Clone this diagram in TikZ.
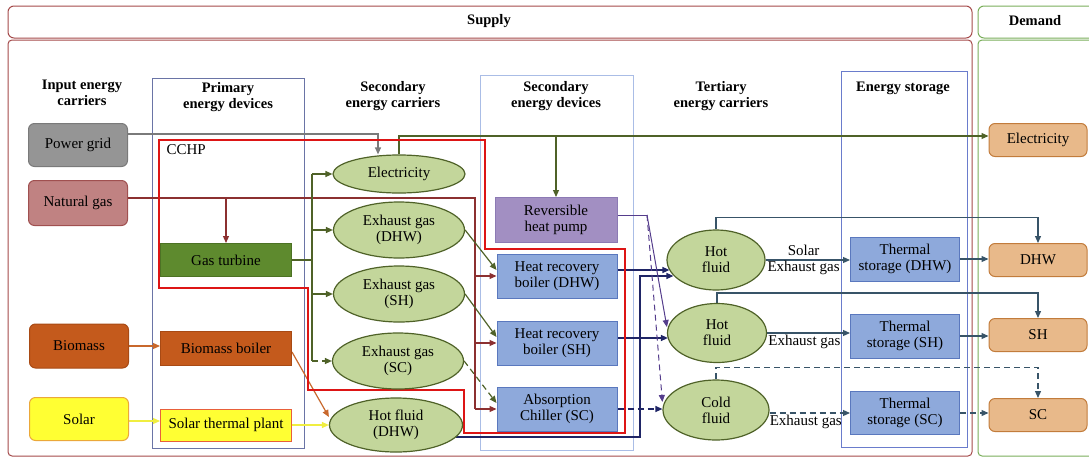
\documentclass[tikz,border=0pt]{standalone}
\usepackage{fontspec}
\setmainfont{Liberation Serif}
\usetikzlibrary{arrows.meta,shapes.geometric,backgrounds}

\definecolor{marcoSup}{HTML}{A44A4A}
\definecolor{marcoDem}{HTML}{7AAE5A}
\definecolor{colPrim}{HTML}{6A74A6}
\definecolor{colSec}{HTML}{AABDE6}
\definecolor{colAlm}{HTML}{6A7CCC}
\definecolor{grisRed}{HTML}{959595}
\definecolor{grisBorde}{HTML}{7A7A7A}
\definecolor{gasRelleno}{HTML}{C08282}
\definecolor{gasBorde}{HTML}{A05050}
\definecolor{gasLinea}{HTML}{8C3030}
\definecolor{bioRelleno}{HTML}{C45A1C}
\definecolor{bioBorde}{HTML}{A84A14}
\definecolor{bioLinea}{HTML}{C8682C}
\definecolor{solRelleno}{HTML}{FFFF33}
\definecolor{solBorde}{HTML}{EBA83A}
\definecolor{solPlanta}{HTML}{E8603A}
\definecolor{solLinea}{HTML}{F0EE40}
\definecolor{turbRelleno}{HTML}{5E8A2E}
\definecolor{turbBorde}{HTML}{4C7224}
\definecolor{verdeOsc}{HTML}{4F6228}
\definecolor{verdeClaro}{HTML}{C3D69B}
\definecolor{azulRelleno}{HTML}{8EA9DB}
\definecolor{azulBorde}{HTML}{5A78BE}
\definecolor{bombaRelleno}{HTML}{A28FC2}
\definecolor{bombaBorde}{HTML}{8C7AB4}
\definecolor{moradoLinea}{HTML}{553D8C}
\definecolor{marino}{HTML}{1F2566}
\definecolor{pizarra}{HTML}{385468}
\definecolor{demRelleno}{HTML}{E8B98A}
\definecolor{demBorde}{HTML}{C27C3C}
\definecolor{rojoCCHP}{HTML}{DD1515}

\newcommand{\fuente}{\fontsize{15}{16}\selectfont}
\newcommand{\fuentetit}{\bfseries\fontsize{14.5}{16}\selectfont}

\begin{document}
\begin{tikzpicture}[x=1pt, y=-1pt,
    flecha/.style={-{Triangle[length=7pt,width=6pt]}, line width=1.2pt},
    linea/.style={line width=1.2pt},
    discont/.style={dash pattern=on 6pt off 4pt},
    entrada/.style={draw, rounded corners=6pt, line width=1pt, minimum width=99pt, minimum height=43pt, font=\fuente},
    equipo/.style={draw, line width=1pt, minimum width=131pt, minimum height=33pt, font=\fuente},
    portador/.style={ellipse, draw=verdeOsc, fill=verdeClaro, line width=1.2pt, inner sep=0pt, align=center, font=\fuente, minimum width=131pt, minimum height=56pt},
    dispositivo/.style={draw=azulBorde, fill=azulRelleno, line width=1pt, minimum width=120pt, minimum height=44pt, align=center, font=\fuente},
    demanda/.style={draw=demBorde, fill=demRelleno, rounded corners=6pt, line width=1pt, minimum width=98pt, minimum height=33pt, font=\fuente},
    titulo/.style={font=\fuentetit, align=center},
    etiqueta/.style={font=\fuente, align=center, text=black, inner sep=1pt}]
\useasboundingbox (0,0) rectangle (1089,458);

% Entradas de energía
\node[entrada, fill=grisRed, draw=grisBorde] (redel) at (78,145) {Power grid};
\node[entrada, fill=gasRelleno, draw=gasBorde, minimum height=45pt] (gas) at (78,203) {Natural gas};
\node[entrada, fill=bioRelleno, draw=bioBorde, minimum height=44pt] (biomasa) at (79,346) {Biomass};
\node[entrada, fill=solRelleno, draw=solBorde] (sol) at (79,419) {Solar};

% Equipos primarios
\node[equipo, fill=turbRelleno, draw=turbBorde] (turbina) at (226,260) {Gas turbine};
\node[equipo, fill=bioRelleno, draw=bioBorde, minimum height=34pt] (caldbio) at (226,348) {Biomass boiler};
\node[equipo, fill=solRelleno, draw=solPlanta, minimum height=32pt] (solterm) at (226,425) {Solar thermal plant};
\node[font=\fuente, anchor=west] (cchp) at (163,150) {CCHP};

% Portadores secundarios
\node[portador, minimum width=132pt, minimum height=38pt] (elec) at (399,174) {Electricity};
\node[portador] (gasDHW) at (399,230) {Exhaust gas\\(DHW)};
\node[portador] (gasSH) at (399,294) {Exhaust gas\\(SH)};
\node[portador] (gasSC) at (398,361) {Exhaust gas\\(SC)};
\node[portador, minimum width=133pt, minimum height=54pt] (fluDHW) at (396,425) {Hot fluid\\(DHW)};

% Dispositivos secundarios
\node[dispositivo, fill=bombaRelleno, draw=bombaBorde, minimum width=122pt, minimum height=45pt] (bomba) at (556,220) {Reversible\\heat pump};
\node[dispositivo] (calDHW) at (557,276) {Heat recovery\\boiler (DHW)};
\node[dispositivo] (calSH) at (557,343) {Heat recovery\\boiler (SH)};
\node[dispositivo] (absorc) at (557,409) {Absorption\\Chiller (SC)};

% Portadores terciarios
\node[portador, minimum width=98pt, minimum height=60pt] (calor1) at (716,260) {Hot\\fluid};
\node[portador, minimum width=99pt, minimum height=59pt] (calor2) at (717,333) {Hot\\fluid};
\node[portador, minimum width=106pt, minimum height=60pt] (frio) at (716,410) {Cold\\fluid};

% Almacenamiento
\node[dispositivo, minimum width=109pt] (almDHW) at (905,259) {Thermal\\storage (DHW)};
\node[dispositivo, minimum width=109pt] (almSH) at (905,336) {Thermal\\storage (SH)};
\node[dispositivo, minimum width=109pt, minimum height=43pt] (almSC) at (905,413) {Thermal\\storage (SC)};

% Demanda
\node[demanda] (demElec) at (1038,140) {Electricity};
\node[demanda] (demDHW) at (1038,260) {DHW};
\node[demanda] (demSH) at (1038,335) {SH};
\node[demanda] (demSC) at (1038,415) {SC};

% Títulos
\node[titulo] (tSupply) at (489,21) {Supply};
\node[titulo] (tDemand) at (1035,21) {Demand};
\node[titulo] (tEntrada) at (82,93) {Input energy\\carriers};
\node[titulo] (tPrim) at (228,97) {Primary\\energy devices};
\node[titulo] (tSecPort) at (393,96) {Secondary\\energy carriers};
\node[titulo] (tSecDisp) at (556,96) {Secondary\\energy devices};
\node[titulo] (tTerc) at (721,96) {Tertiary\\energy carriers};
\node[titulo] (tAlm) at (903,88) {Energy storage};

\begin{scope}[on background layer]
% Marcos de oferta y demanda
\draw[marcoSup, line width=1pt, rounded corners=6pt] (8,6) rectangle (972,38);
\draw[marcoSup, line width=1pt, rounded corners=4pt] (8,40) rectangle (972,456);
\draw[marcoDem, line width=1pt, rounded corners=6pt] (1089,6) -- (978,6) -- (978,38) -- (1089,38);
\draw[marcoDem, line width=1pt, rounded corners=4pt] (1089,40) -- (978,40) -- (978,456) -- (1089,456);

% Columnas
\draw[colPrim, line width=0.9pt] (152,78) rectangle (304,448);
\draw[colSec, line width=0.9pt] (480,75) rectangle (633,450);
\draw[colAlm, line width=0.9pt] (841,71) rectangle (967,447);

% Red eléctrica
\draw[flecha, grisBorde] ([yshift=11pt]redel.east) -| ([xshift=-21pt]elec.north);

% Gas natural
\coordinate (busGas) at (475,198);
\draw[linea, gasLinea] ([yshift=5pt]gas.east) -- (busGas) -- (busGas |- absorc.west);
\draw[flecha, gasLinea] (turbina.north |- busGas) -- (turbina.north);
\foreach \d in {calDHW, calSH, absorc}
  \draw[flecha, gasLinea] (busGas |- \d.west) -- (\d.west);

% Turbina de gas
\coordinate (busTurb) at (312,260);
\draw[linea, verdeOsc] (turbina.east) -- (busTurb);
\draw[linea, verdeOsc] (busTurb |- elec.west) -- (busTurb |- gasSC.west);
\foreach \p in {elec, gasDHW, gasSH}
  \draw[flecha, verdeOsc] (busTurb |- \p.west) -- (\p.west);
\draw[flecha, verdeOsc, discont] (busTurb |- gasSC.west) -- (gasSC.west);

% Electricidad hacia la demanda
\coordinate (busElec) at ([yshift=4pt]demElec.west);
\draw[flecha, verdeOsc] (elec.north) |- (busElec);
\draw[flecha, verdeOsc] (bomba.north |- busElec) -- (bomba.north);

% Gases de escape -> calderas
\draw[flecha, verdeOsc] (gasDHW.east) -- ([yshift=6pt]calDHW.west);
\draw[flecha, verdeOsc] (gasSH.east) -- ([yshift=6pt]calSH.west);
\draw[flecha, verdeOsc, discont] (gasSC.east) -- ([yshift=6pt]absorc.west);

% Biomasa y solar
\draw[flecha, bioLinea] (biomasa.east) -- (biomasa.east -| caldbio.west);
\draw[flecha, bioLinea] ([yshift=-4pt]caldbio.east) -- ([yshift=8pt]fluDHW.west);
\draw[flecha, solLinea] ([yshift=-2pt]sol.east) -- ([yshift=-2pt]sol.east -| solterm.west);
\draw[flecha, solLinea] (solterm.east) -- (fluDHW.west);

% Hacia los portadores terciarios
\coordinate (busFlu) at (640,437);
\draw[flecha, marino] ([shift={(-7pt,-12pt)}]fluDHW.east) -- (busFlu) |- ([shift={(7pt,-16pt)}]calor1.west);
\draw[flecha, marino] ([yshift=6pt]calDHW.east) -- ([shift={(3pt,-10pt)}]calor1.west);
\draw[flecha, marino] ([yshift=5pt]calSH.east) -- ([shift={(1pt,-5pt)}]calor2.west);
\draw[flecha, marino, discont] (absorc.east) -- (absorc.east -| frio.west);

% Bomba de calor reversible
\coordinate (busBomba) at (647,215);
\draw[line width=1pt, moradoLinea] ([yshift=5pt]bomba.east) -- (busBomba);
\draw[flecha, moradoLinea, line width=1pt] (busBomba) -- ([yshift=6pt]calor2.west);
\draw[flecha, moradoLinea, line width=1pt, discont] (busBomba) -- ([yshift=8pt]frio.west);

% Portadores terciarios -> almacenamiento
\draw[flecha, pizarra] (calor1.east) -- (calor1.east -| almDHW.west) node[etiqueta, pos=0.45] {Solar\\Exhaust gas};
\draw[flecha, pizarra] (calor2.east) -- (calor2.east -| almSH.west) node[etiqueta, pos=0.45, below] {Exhaust gas};
\draw[flecha, pizarra, discont] ([yshift=-3pt]frio.east) -- ([yshift=-3pt]frio.east -| almSC.west) node[etiqueta, pos=0.45, below] {Exhaust gas};

% Portadores terciarios -> demanda
\draw[flecha, pizarra] (calor1.north) -- ++(0,-12) -| (demDHW.north);
\draw[flecha, pizarra] (calor2.north) -- ++(0,-10) -| (demSH.north);
\draw[flecha, pizarra, discont] (frio.north) -- ++(0,-12) -| (demSC.north);

% Almacenamiento -> demanda
\draw[flecha, pizarra] (almDHW.east) -- (almDHW.east -| demDHW.west);
\draw[flecha, pizarra] (almSH.east) -- (almSH.east -| demSH.west);
\draw[flecha, pizarra, discont] (almSC.east) -- (almSC.east -| demSC.west);

% Frontera CCHP
\draw[rojoCCHP, line width=2.6pt] (159,140) -- (485,140) -- (485,249) -- (625,249) -- (625,433)
    -- (464,433) -- (464,390) -- (308,390) -- (308,288) -- (159,288) -- cycle;
\end{scope}

\end{tikzpicture}
\end{document}
